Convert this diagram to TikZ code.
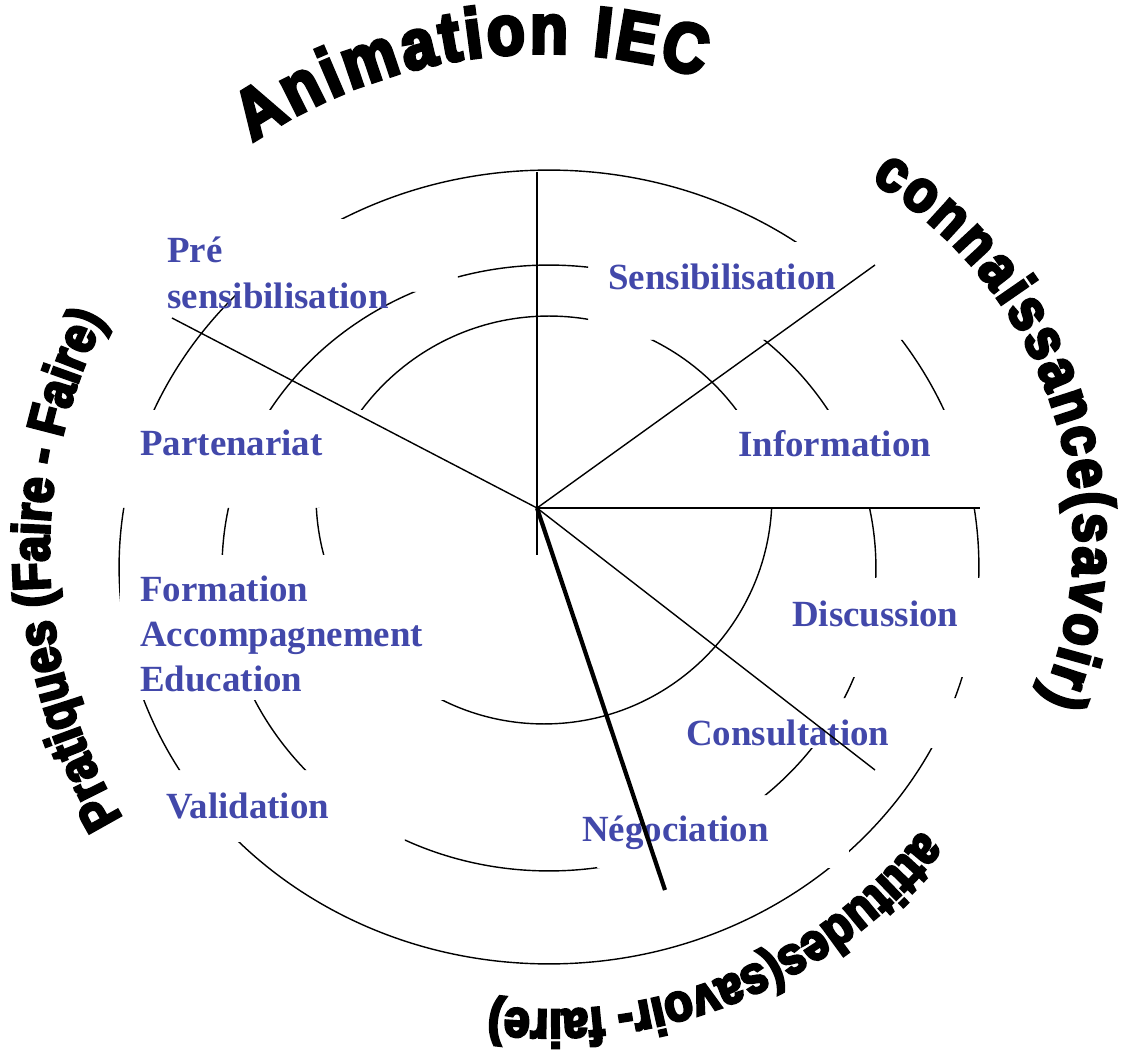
\documentclass[tikz,border=0pt]{standalone}
\usepackage{fontspec}
\setmainfont{Liberation Serif}
\newfontfamily\artfont{Liberation Sans}[UprightFont={* Bold},UprightFeatures={FakeBold=5},FakeStretch=0.88]
\usepackage{tikz}
\usetikzlibrary{decorations.text}
\definecolor{labelblue}{RGB}{66,72,170}

\begin{document}
\begin{tikzpicture}[x=0.02cm,y=0.02cm]
\tikzset{ring/.style={line width=0.8pt},
  spoke/.style={line width=0.8pt},
  lbl/.style={anchor=base west, inner sep=0pt, text=labelblue, font=\bfseries\fontsize{21}{21}\selectfont}}
\useasboundingbox (-537,-543) rectangle (585,508);
% the rings, cut where the text boxes sit
\begin{scope}[even odd rule]
\clip (-537,-543) rectangle (585,508)
  (-377,216) rectangle (-79,289)     % pre sensibilisation
  (-437,0) rectangle (-57,98)        % partenariat
  (-417,-192) rectangle (-91,-47)    % formation
  (-387,-334) rectangle (-132,-262)  % validation
  (51,168) rectangle (463,266)       % sensibilisation
  (103,0) rectangle (463,98)         % information
  (243,-169) rectangle (463,-70)     % discussion
  (143,-240) rectangle (463,-190)    % consultation
  (60,-360) rectangle (312,-287);    % negociation
\draw[ring] (12,-59) ellipse [x radius=8.6cm, y radius=7.94cm];
\draw[ring] (12,-60) ellipse [x radius=6.54cm, y radius=6.06cm];
\begin{scope}
\clip (-537,0) rectangle (585,508);
\draw[ring] (12,-42) circle [radius=4.68cm];
\end{scope}
\begin{scope}
\clip (-537,-543) rectangle (585,0);
\draw[ring] (7,12) circle [radius=4.56cm];
\end{scope}
\end{scope}
% the labels
\node[lbl] (pre) at (-370,245) {Pré};
\node[lbl] (presens) at (-370,199) {sensibilisation};
\node[lbl] (sens) at (71,218) {Sensibilisation};
\node[lbl] (info) at (201,51) {Information};
\node[lbl] (part) at (-397,52) {Partenariat};
\node[lbl] (form) at (-397,-93) {Formation};
\node[lbl] (accomp) at (-397,-138) {Accompagnement};
\node[lbl] (educ) at (-397,-183) {Education};
\node[lbl] (valid) at (-371,-310) {Validation};
\node[lbl] (disc) at (255,-118) {Discussion};
\node[lbl] (consult) at (149,-237) {Consultation};
\node[lbl] (nego) at (45,-333) {Négociation};
% the spokes
\coordinate (ctr) at (0,0);
\coordinate (top) at (0,336);
\coordinate (bot) at (0,-47);
\coordinate (ne) at (338,243);
\coordinate (e) at (443,0);
\coordinate (se) at (338,-262);
\coordinate (nw) at (-365,190);
\coordinate (s) at (128,-382);
\foreach \p in {top,bot,ne,e,se,nw} {
\draw[spoke] (ctr) -- (\p);
}
\draw[line width=2.4pt] (ctr) -- (s);
% the curved titles
\path[decorate, decoration={text along path, text align=fit to path,
  text={|\artfont\fontsize{40}{40}\selectfont|Animation IEC}}]
  (7,-66) ++(124:10.42cm) arc[start angle=124, end angle=72.5, radius=10.42cm];
\path[decorate, decoration={text along path, text align=fit to path,
  text={|\artfont\fontsize{34}{34}\selectfont|connaissance(savoir)}}]
  (118,-32) ++(59:8.38cm) arc[start angle=59, end angle=-22.5, radius=8.38cm];
\path[decorate, decoration={text along path, text align=fit to path,
  text={|\artfont\fontsize{30}{30}\selectfont|attitudes(savoir- faire)}}]
  (13,-27) ++(-38.5:9.5cm) arc[start angle=-38.5, end angle=-97, radius=9.5cm];
\path[decorate, decoration={text along path, text align=fit to path,
  text={|\artfont\fontsize{30}{30}\selectfont|Pratiques (Faire - Faire)}}]
  (27,-45) ++(211:10.3cm) arc[start angle=211, end angle=153, radius=10.3cm];
\end{tikzpicture}
\end{document}
